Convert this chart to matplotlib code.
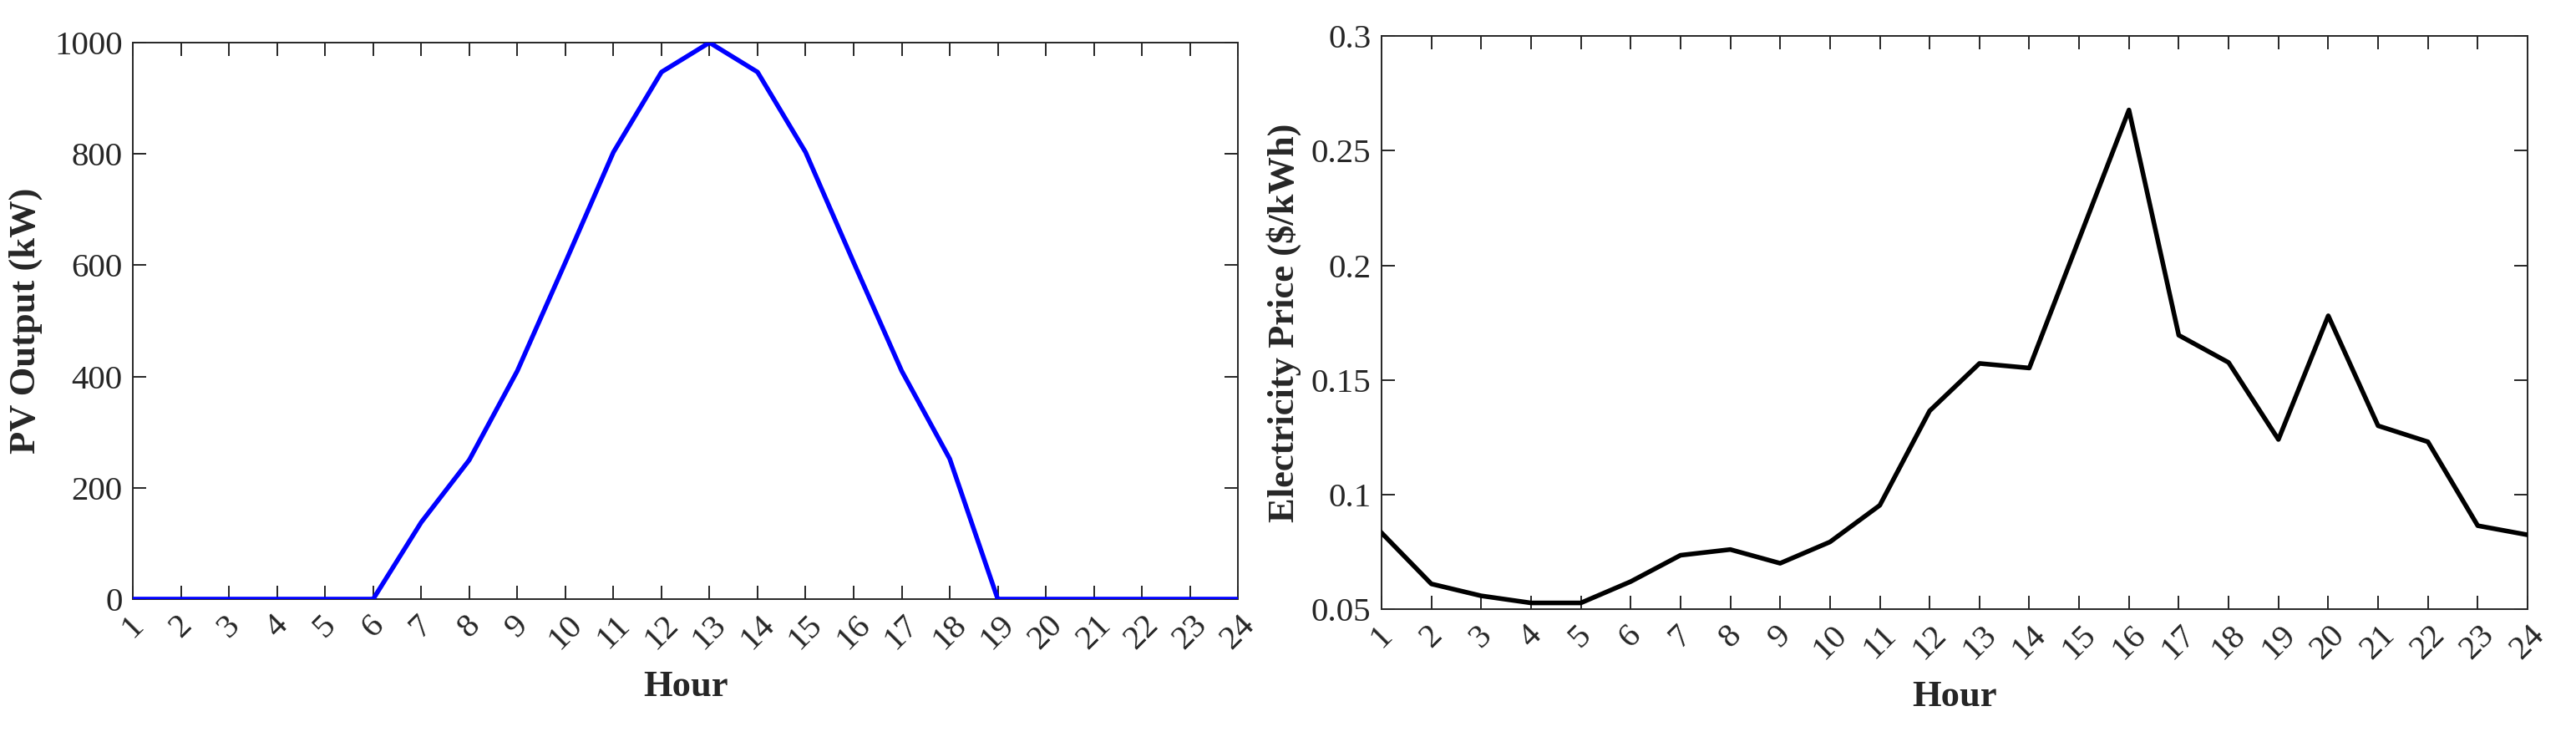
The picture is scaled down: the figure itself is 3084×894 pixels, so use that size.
import matplotlib
matplotlib.use("Agg")
import matplotlib.pyplot as plt

hours = list(range(1, 25))
pv_output = [0, 0, 0, 0, 0, 0, 138, 250, 410, 605, 803, 947, 1000,
             947, 803, 605, 410, 252, 0, 0, 0, 0, 0, 0]
price = [0.0833, 0.061, 0.0558, 0.0527, 0.0527, 0.062, 0.0735, 0.076,
         0.070, 0.0793, 0.0953, 0.1365, 0.1572, 0.1552, 0.2115, 0.2678,
         0.1695, 0.1576, 0.124, 0.178, 0.130, 0.123, 0.0864, 0.0824]
pv_yticks = [0, 200, 400, 600, 800, 1000]
price_yticks = [0.05, 0.1, 0.15, 0.2, 0.25, 0.3]

plt.rcParams['font.family'] = ['Liberation Serif', 'DejaVu Serif']
dark = '#262626'

fig = plt.figure(figsize=(30.84, 8.94), dpi=100)
ax1 = fig.add_axes([0.0516, 0.198, 0.429, 0.745])
ax2 = fig.add_axes([0.5363, 0.1846, 0.4449, 0.767])


def style(ax):
    for s in ax.spines.values():
        s.set_color(dark)
        s.set_linewidth(1.4)
    ax.tick_params(direction='in', length=11.5, width=1.4, colors=dark,
                   labelsize=29.5, top=True, right=True)
    ax.tick_params(axis='y', pad=9)
    ax.tick_params(axis='x', pad=9)
    ax.set_xlim(1, 24)
    ax.set_xticks(hours)
    ax.set_xticklabels([str(h) for h in hours], rotation=45, ha='center', va='top')
    ax.set_xlabel('Hour', fontsize=32, fontweight='bold', color=dark)


ax1.plot(hours, pv_output, color='#0000ff', linewidth=4, zorder=3)
style(ax1)
ax1.set_ylim(0, 1000)
ax1.set_yticks(pv_yticks)
ax1.set_ylabel('PV Output (kW)', fontsize=32, fontweight='bold', color=dark)
ax1.yaxis.set_label_coords(-0.082, 0.5)
ax1.xaxis.set_label_coords(0.5, -0.128)

ax2.plot(hours, price, color='black', linewidth=4, zorder=3)
style(ax2)
ax2.set_ylim(0.05, 0.3)
ax2.set_yticks(price_yticks)
ax2.set_yticklabels([f'{v:g}' for v in price_yticks])
ax2.set_ylabel('Electricity Price ($/kWh)', fontsize=32, fontweight='bold', color=dark)
ax2.yaxis.set_label_coords(-0.070, 0.5)
ax2.xaxis.set_label_coords(0.5, -0.124)

fig.savefig('out.png', dpi=100)
